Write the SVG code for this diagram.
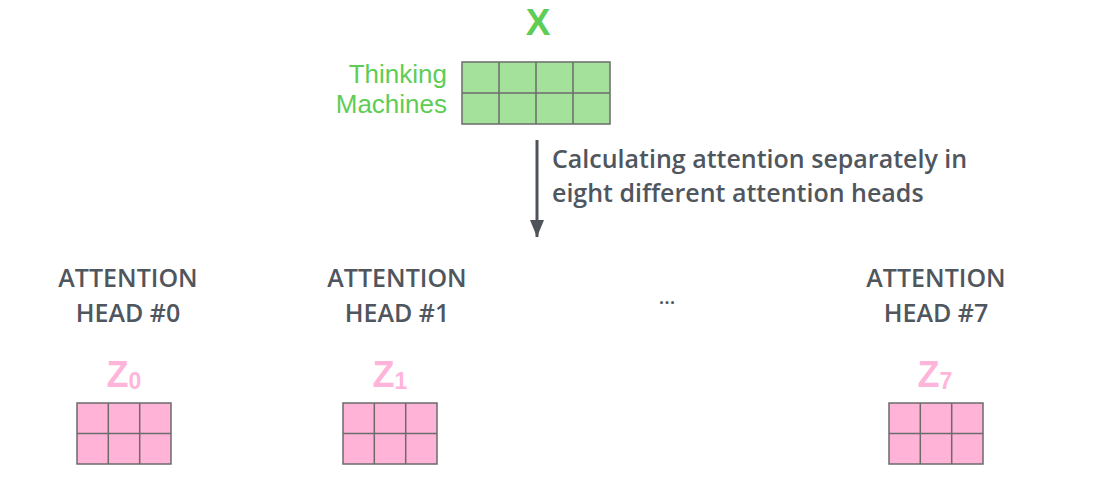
<svg xmlns="http://www.w3.org/2000/svg" width="1120" height="488" viewBox="0 0 1120 488">
<style>
.grid{stroke:#6b6b6b;stroke-width:1.5}
.g{fill:#a4e29c}
.p{fill:#ffb3d7}
.gt{fill:#5dcd55;font-family:"Liberation Sans",Arial,sans-serif}
.hd{fill:#50565e;font-family:"Open Sans",sans-serif;font-weight:600;font-size:25px;text-anchor:middle}
.cap{fill:#50565e;font-family:"Open Sans",sans-serif;font-weight:600;font-size:25px}
.z{fill:#ffb5da;font-family:"Liberation Sans",Arial,sans-serif;font-weight:bold;font-size:36px;text-anchor:middle}
.sub{font-size:23px}
</style>
<defs>
<marker id="ah" markerWidth="18" markerHeight="14" refX="17" refY="7" orient="auto" markerUnits="userSpaceOnUse" viewBox="0 0 18 14">
<path d="M0,0 L17,7 L0,14 Z" fill="#4e535a"/>
</marker>
</defs>
<rect width="1120" height="488" fill="#ffffff"/>

<g id="x-input">
<text class="gt" x="538" y="35" font-size="37" font-weight="bold" text-anchor="middle">X</text>
<text class="gt" x="447" y="83" font-size="26" text-anchor="end">Thinking</text>
<text class="gt" x="447" y="113" font-size="26" text-anchor="end">Machines</text>
<rect class="g grid" x="462" y="62" width="148" height="62"/>
<path class="grid" fill="none" d="M499,62V124M536,62V124M573,62V124M462,93H610"/>
</g>

<g id="connectors">
<line x1="537" y1="140" x2="537" y2="237" stroke="#4e535a" stroke-width="3" marker-end="url(#ah)"/>
</g>

<g id="caption">
<text class="cap" x="552" y="168">Calculating attention separately in</text>
<text class="cap" x="552" y="202">eight different attention heads</text>
</g>

<g id="head0">
<text class="hd" x="128" y="287">ATTENTION</text>
<text class="hd" x="128" y="322">HEAD #0</text>
<text class="z" x="124" y="387">Z<tspan class="sub" dy="2">0</tspan></text>
<rect class="p grid" x="77" y="403" width="94" height="61"/>
<path class="grid" fill="none" d="M108.3,403V464M139.7,403V464M77,433.5H171"/>
</g>

<g id="head1">
<text class="hd" x="397" y="287">ATTENTION</text>
<text class="hd" x="397" y="322">HEAD #1</text>
<text class="z" x="390" y="387">Z<tspan class="sub" dy="2">1</tspan></text>
<rect class="p grid" x="343" y="403" width="94" height="61"/>
<path class="grid" fill="none" d="M374.3,403V464M405.7,403V464M343,433.5H437"/>
</g>

<g id="ellipsis">
<text x="667" y="304" fill="#50565e" font-family="'Open Sans',sans-serif" font-weight="600" font-size="20" text-anchor="middle">...</text>
</g>

<g id="head7">
<text class="hd" x="936" y="287">ATTENTION</text>
<text class="hd" x="936" y="322">HEAD #7</text>
<text class="z" x="935" y="387">Z<tspan class="sub" dy="2">7</tspan></text>
<rect class="p grid" x="889" y="403" width="94" height="61"/>
<path class="grid" fill="none" d="M920.3,403V464M951.7,403V464M889,433.5H983"/>
</g>
</svg>
